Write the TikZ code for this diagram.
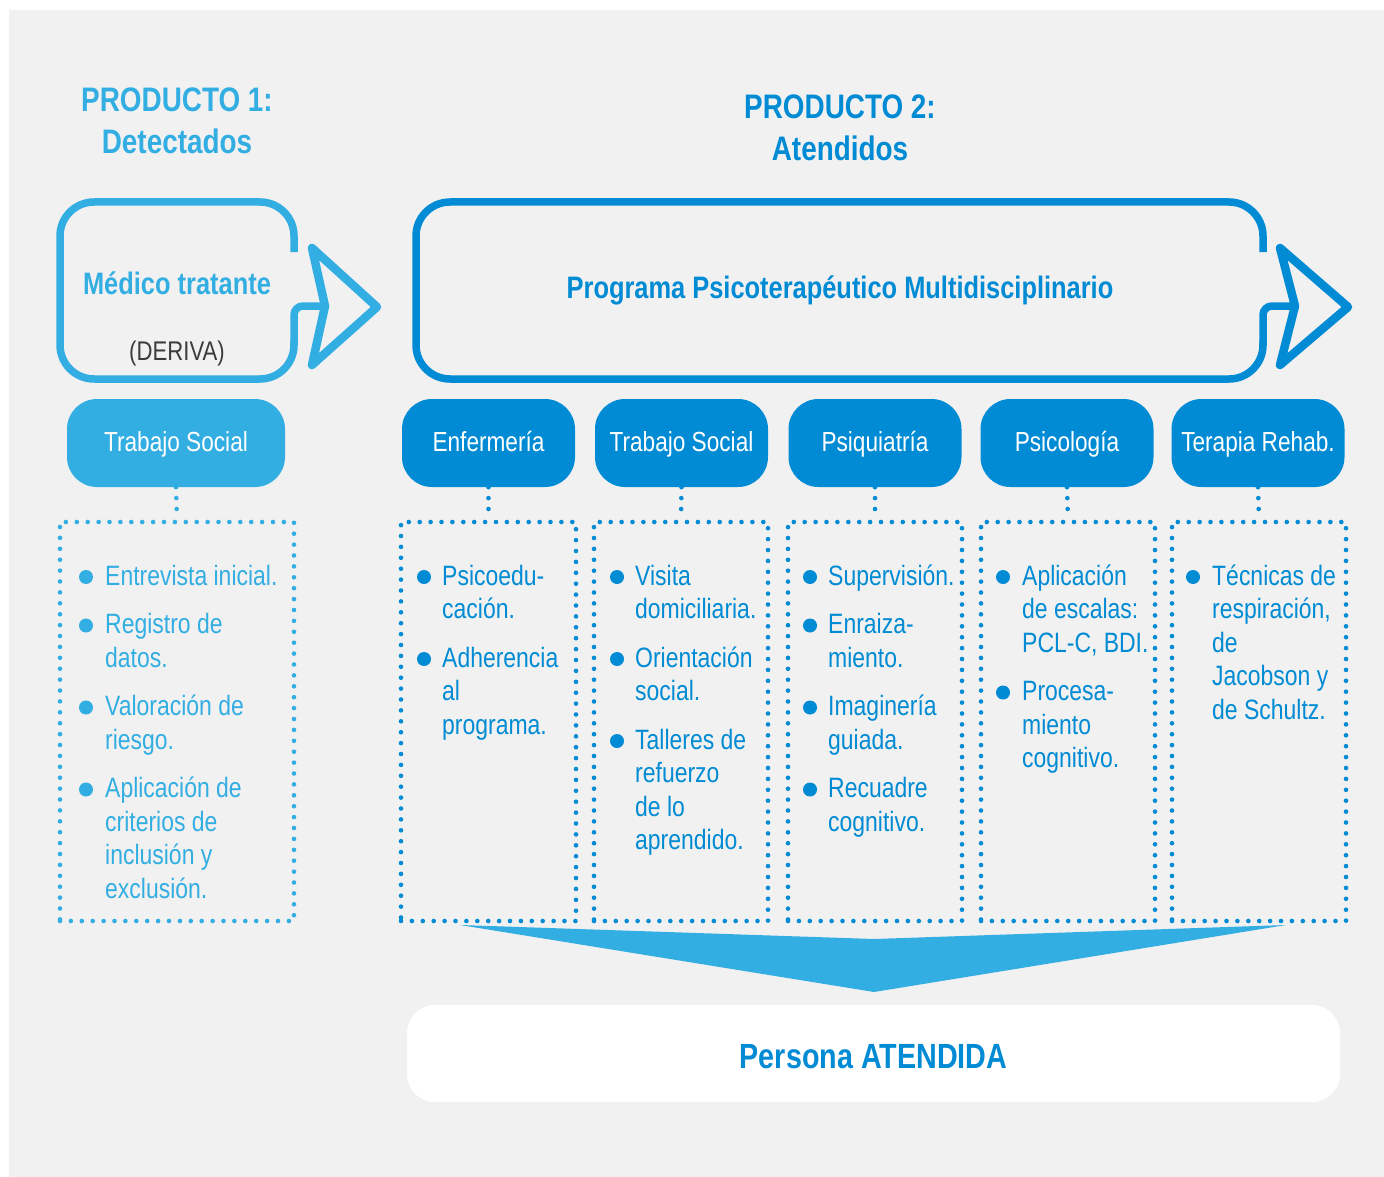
\documentclass[tikz,border=0pt]{standalone}
\usepackage{fontspec}
\setmainfont[FakeStretch=0.82]{Liberation Sans}
\definecolor{lb}{RGB}{50,174,227}
\definecolor{db}{RGB}{0,139,212}
\definecolor{bggray}{RGB}{241,241,241}
\definecolor{tg}{RGB}{60,60,60}
\newcommand\myitem[6]{%
  \node[bul,fill=#5] (#1b) at (#2,#4-8) {};
  \node[itemtxt,text=#5] (#1) at (#3,#4) {\parbox[t]{230pt}{\raggedright #6}};}
\begin{document}
\begin{tikzpicture}[x=1pt,y=-1pt,
  dotline/.style={line width=4.6pt, line cap=round, dash pattern=on 0pt off 10.9pt},
  deptbox/.style={rounded corners=30pt, minimum height=88pt, inner sep=0pt, text height=17pt, text depth=0pt, text=white, font=\fontsize{27.6}{32}\selectfont},
  dotbox/.style={draw, dotline, minimum height=399pt, inner sep=0pt},
  bul/.style={circle, inner sep=0pt, minimum size=14pt},
  itemtxt/.style={anchor=base west, inner sep=0pt, font=\fontsize{28}{33.5}\selectfont},
  title/.style={align=center, font=\bfseries\fontsize{34}{42}\selectfont},
  outl/.style={line width=7.5pt},
  chev/.style={line width=8.5pt, line join=round}
]
\useasboundingbox (0,0) rectangle (1384,1177);
\fill[white] (0,0) rectangle (1384,1177);
\fill[bggray] (9,10) rectangle (1384,1177);

% titles
\node[title, text=lb] (p1) at (177,121) {PRODUCTO 1:\\Detectados};
\node[title, text=db] (p2) at (840,128) {PRODUCTO 2:\\Atendidos};

% box 1 outline
\draw[lb, outl, rounded corners=34pt] (294,252) -- (294,202) -- (60,202) -- (60,379) -- (294,379) -- (294,340);
\draw[lb, outl, rounded corners=9pt] (294,345) -- (294,306) -- (325,306);
\draw[lb, chev] (312,248) -- (377,307) -- (312,365) -- (325,306) -- cycle;
\node[text=lb, font=\bfseries\fontsize{31}{37}\selectfont] (med) at (177,283) {Médico tratante};
\node[text=tg, font=\fontsize{27}{32}\selectfont] (der) at (177,354) {(DERIVA)};

% box 2 outline
\draw[db, outl, rounded corners=34pt] (1263,252) -- (1263,202) -- (416,202) -- (416,379) -- (1263,379) -- (1263,340);
\draw[db, outl, rounded corners=9pt] (1263,345) -- (1263,306) -- (1295,306);
\draw[db, chev] (1280,248) -- (1348,307) -- (1280,365) -- (1295,306) -- cycle;
\node[text=db, font=\bfseries\fontsize{31}{37}\selectfont] (prog) at (840,290) {Programa Psicoterapéutico Multidisciplinario};

% department boxes
\node[deptbox, fill=lb, minimum width=218pt] (ts0) at (176,443) {Trabajo Social};
\node[deptbox, fill=db, minimum width=173pt] (enf) at (488.5,443) {Enfermería};
\node[deptbox, fill=db, minimum width=173pt] (ts2) at (681.5,443) {Trabajo Social};
\node[deptbox, fill=db, minimum width=173pt] (psq) at (875,443) {Psiquiatría};
\node[deptbox, fill=db, minimum width=173pt] (psc) at (1067,443) {Psicología};
\node[deptbox, fill=db, minimum width=173pt] (ter) at (1258,443) {Terapia Rehab.};

% funnel
\fill[lb] (460,925) -- (874,939) -- (1286,925) -- (874,992) -- cycle;

% dotted boxes
\node[dotbox, lb, minimum width=234pt] (d0) at (177,721.5) {};
\node[dotbox, db, minimum width=175pt] (d1) at (488.5,721.5) {};
\node[dotbox, db, minimum width=174pt] (d2) at (681,721.5) {};
\node[dotbox, db, minimum width=174pt] (d3) at (875,721.5) {};
\node[dotbox, db, minimum width=174pt] (d4) at (1068,721.5) {};
\node[dotbox, db, minimum width=174pt] (d5) at (1259,721.5) {};

% connectors
\draw[dotline, lb] (ts0.south) -- (d0.north);
\draw[dotline, db] (enf.south) -- (d1.north);
\draw[dotline, db] (ts2.south) -- (d2.north);
\draw[dotline, db] (psq.south) -- (d3.north);
\draw[dotline, db] (psc.south) -- (d4.north);
\draw[dotline, db] (ter.south) -- (d5.north);

% items left
\myitem{la}{86}{105}{585}{lb}{Entrevista inicial.}
\myitem{lc}{86}{105}{633.5}{lb}{Registro de\\datos.}
\myitem{ld}{86}{105}{715.5}{lb}{Valoración de\\riesgo.}
\myitem{le}{86}{105}{797.5}{lb}{Aplicación de\\criterios de\\inclusión y\\exclusión.}
% col 1
\myitem{aa}{424}{442}{585}{db}{Psicoedu-\\cación.}
\myitem{ab}{424}{442}{667}{db}{Adherencia\\al\\programa.}
% col 2
\myitem{ba}{617}{635}{585}{db}{Visita\\domiciliaria.}
\myitem{bb}{617}{635}{667}{db}{Orientación\\social.}
\myitem{bc}{617}{635}{749}{db}{Talleres de\\refuerzo\\de lo\\aprendido.}
% col 3
\myitem{ca}{810}{828}{585}{db}{Supervisión.}
\myitem{cb}{810}{828}{633.5}{db}{Enraiza-\\miento.}
\myitem{cc}{810}{828}{715.5}{db}{Imaginería\\guiada.}
\myitem{cd}{810}{828}{797.5}{db}{Recuadre\\cognitivo.}
% col 4
\myitem{ea}{1003}{1022}{585}{db}{Aplicación\\de escalas:\\PCL-C, BDI.}
\myitem{eb}{1003}{1022}{700.5}{db}{Procesa-\\miento\\cognitivo.}
% col 5
\myitem{fa}{1193}{1212}{585}{db}{Técnicas de\\respiración,\\de\\Jacobson y\\de Schultz.}

% result
\node[fill=white, rounded corners=28pt, minimum width=933pt, minimum height=97pt, inner sep=0pt] (pa) at (873.5,1053.5) {};
\node[font=\bfseries\fontsize{35}{42}\selectfont, text=db] (patxt) at (873.5,1057) {Persona ATENDIDA};
\end{tikzpicture}
\end{document}
